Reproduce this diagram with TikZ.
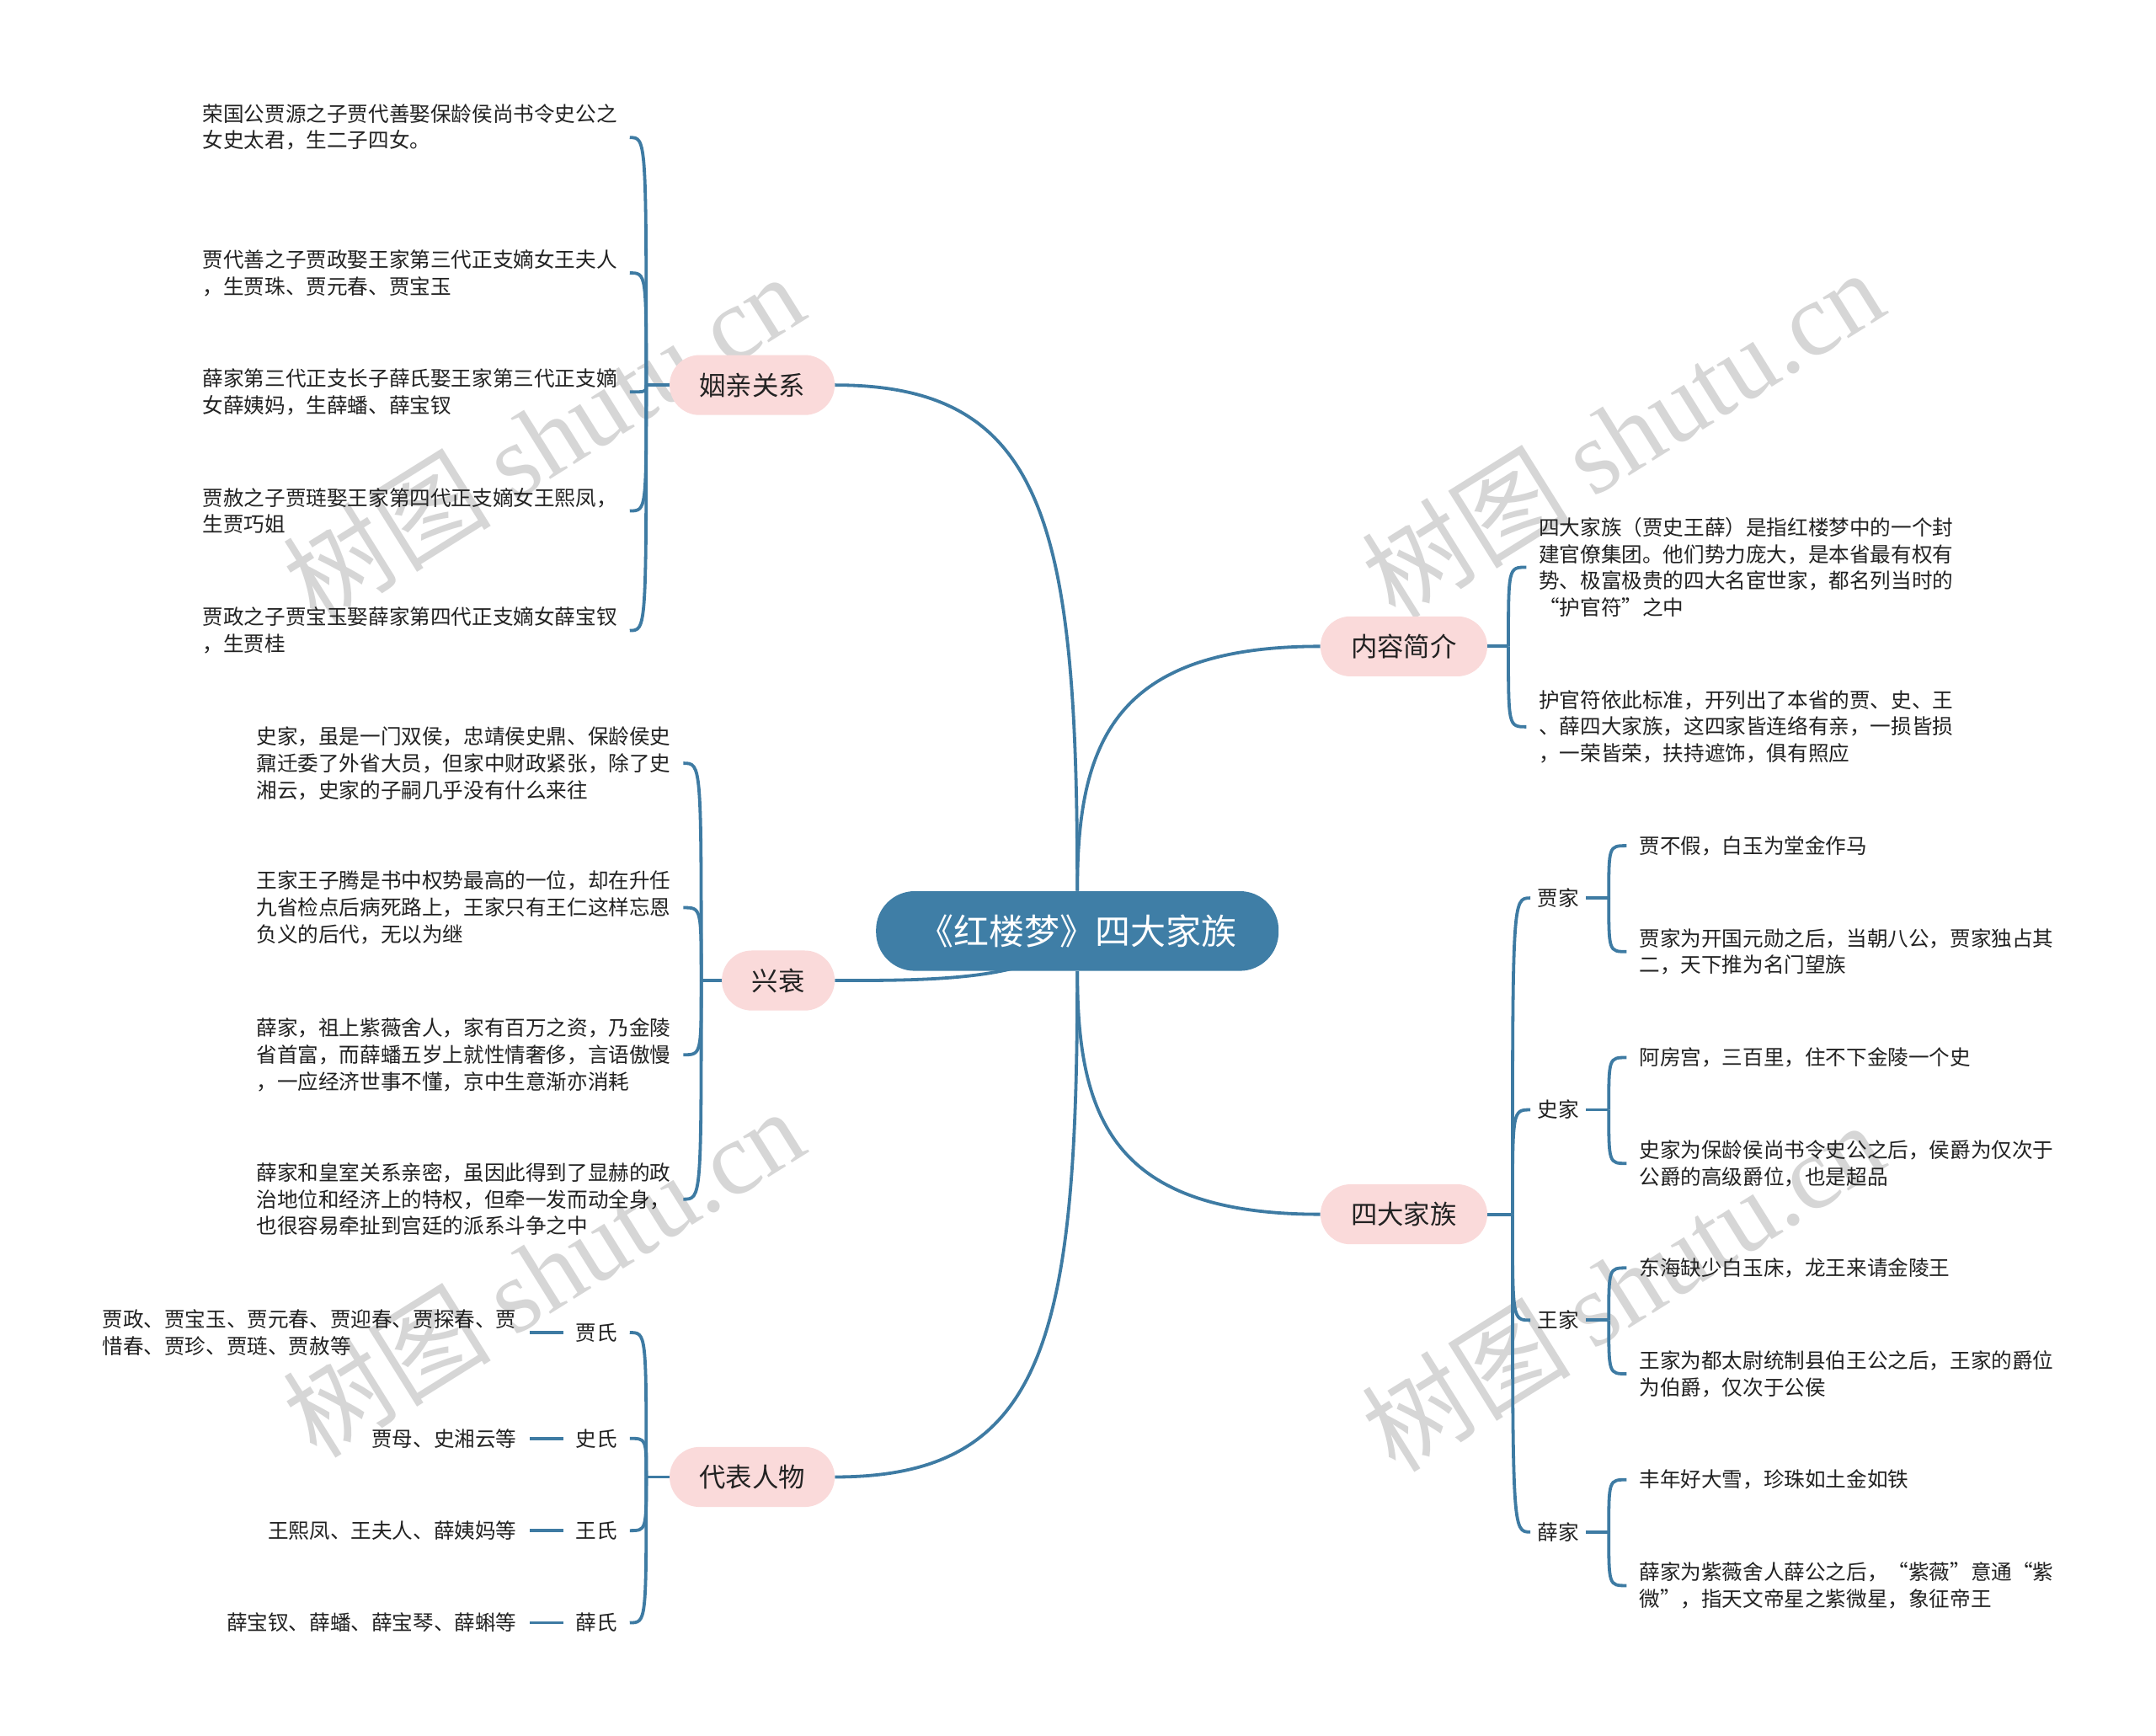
\documentclass[tikz,border=0pt]{standalone}
\usepackage{fontspec}
\setmainfont{Noto Sans CJK SC}
\newfontfamily\wmlatin{Liberation Serif}
\usetikzlibrary{calc}
\definecolor{lineblue}{HTML}{3E7BA3}
\definecolor{rootblue}{HTML}{3F7EA6}
\definecolor{pinkfill}{HTML}{FADADA}
\definecolor{txt}{HTML}{222222}
\definecolor{wmgray}{HTML}{D6D6D6}
\pgfdeclarelayer{wm}
\pgfdeclarelayer{bg}
\pgfsetlayers{wm,bg,main}
\begin{document}
\begin{tikzpicture}[x=0.8163pt,y=-0.8163pt,
  conn/.style={draw=lineblue,line width=1.9pt},
  rootnode/.style={fill=rootblue,text=white,rounded corners=23pt,minimum width=239pt,minimum height=47.3pt,inner sep=0pt,font=\fontsize{21}{25}\selectfont},
  topic/.style={fill=pinkfill,text=txt,rounded corners=17.8pt,minimum height=35.6pt,inner sep=0pt,font=\fontsize{15.7}{19}\selectfont},
  leaf/.style={text=txt,align=left,inner xsep=7.3pt,inner ysep=0pt,font=\fontsize{12.3}{15.9}\selectfont},
  lab/.style={text=txt,inner xsep=4pt,inner ysep=0pt,font=\fontsize{12.3}{15.9}\selectfont},
  wmark/.style={text=wmgray,rotate=32,inner sep=0pt,font=\fontsize{62}{70}\selectfont}]
\useasboundingbox (0,0) rectangle (1568,1262);
\begin{pgfonlayer}{wm}
\fill[white] (0,0) rectangle (1568,1262);
\node[wmark] (w1) at (395,318) {树图 {\wmlatin shutu.cn}};
\node[wmark] (w2) at (1180,315) {树图 {\wmlatin shutu.cn}};
\node[wmark] (w3) at (395,925) {树图 {\wmlatin shutu.cn}};
\node[wmark] (w4) at (1180,935) {树图 {\wmlatin shutu.cn}};
\end{pgfonlayer}

% root and topics
\node[rootnode] (root) at (783.5,677) {《红楼梦》四大家族};
\node[topic,minimum width=98pt] (yq) at (547,280) {姻亲关系};
\node[topic,minimum width=67pt] (xs) at (566,713) {兴衰};
\node[topic,minimum width=98pt] (db) at (547,1074) {代表人物};
\node[topic,minimum width=99pt] (nr) at (1021,470) {内容简介};
\node[topic,minimum width=99pt] (sd) at (1021,883) {四大家族};

% 姻亲关系 children
\node[leaf,anchor=east] (a1) at (458,92.5) {荣国公贾源之子贾代善娶保龄侯尚书令史公之\\女史太君，生二子四女。};
\node[leaf,anchor=east] (a2) at (458,198.5) {贾代善之子贾政娶王家第三代正支嫡女王夫人\\，生贾珠、贾元春、贾宝玉};
\node[leaf,anchor=east] (a3) at (458,285) {薛家第三代正支长子薛氏娶王家第三代正支嫡\\女薛姨妈，生薛蟠、薛宝钗};
\node[leaf,anchor=east] (a4) at (458,371.5) {贾赦之子贾琏娶王家第四代正支嫡女王熙凤，\\生贾巧姐};
\node[leaf,anchor=east] (a5) at (458,458.5) {贾政之子贾宝玉娶薛家第四代正支嫡女薛宝钗\\，生贾桂};

% 兴衰 children
\node[leaf,anchor=east] (b1) at (497,555) {史家，虽是一门双侯，忠靖侯史鼎、保龄侯史\\鼐迁委了外省大员，但家中财政紧张，除了史\\湘云，史家的子嗣几乎没有什么来往};
\node[leaf,anchor=east] (b2) at (497,660) {王家王子腾是书中权势最高的一位，却在升任\\九省检点后病死路上，王家只有王仁这样忘恩\\负义的后代，无以为继};
\node[leaf,anchor=east] (b3) at (497,767) {薛家，祖上紫薇舍人，家有百万之资，乃金陵\\省首富，而薛蟠五岁上就性情奢侈，言语傲慢\\，一应经济世事不懂，京中生意渐亦消耗};
\node[leaf,anchor=east] (b4) at (497,872) {薛家和皇室关系亲密，虽因此得到了显赫的政\\治地位和经济上的特权，但牵一发而动全身，\\也很容易牵扯到宫廷的派系斗争之中};

% 代表人物 children
\node[leaf,anchor=east] (c1) at (458,969) {贾氏};
\node[leaf,anchor=east] (c2) at (458,1046) {史氏};
\node[leaf,anchor=east] (c3) at (458,1113) {王氏};
\node[leaf,anchor=east] (c4) at (458,1180) {薛氏};
\node[leaf,anchor=east] (v1) at (385,969) {贾政、贾宝玉、贾元春、贾迎春、贾探春、贾\\惜春、贾珍、贾琏、贾赦等};
\node[leaf,anchor=east] (v2) at (385,1046) {贾母、史湘云等};
\node[leaf,anchor=east] (v3) at (385,1113) {王熙凤、王夫人、薛姨妈等};
\node[leaf,anchor=east] (v4) at (385,1180) {薛宝钗、薛蟠、薛宝琴、薛蝌等};

% 内容简介 children
\node[leaf,anchor=west] (d1) at (1110,412.5) {四大家族（贾史王薛）是指红楼梦中的一个封\\建官僚集团。他们势力庞大，是本省最有权有\\势、极富极贵的四大名宦世家，都名列当时的\\“护官符”之中};
\node[leaf,anchor=west] (d2) at (1110,528.5) {护官符依此标准，开列出了本省的贾、史、王\\、薛四大家族，这四家皆连络有亲，一损皆损\\，一荣皆荣，扶持遮饰，俱有照应};

% 四大家族 children
\node[lab,anchor=west] (g1) at (1113,653) {贾家};
\node[lab,anchor=west] (g2) at (1113,807) {史家};
\node[lab,anchor=west] (g3) at (1113,960) {王家};
\node[lab,anchor=west] (g4) at (1113,1114) {薛家};
\node[leaf,anchor=west] (e1) at (1183,615) {贾不假，白玉为堂金作马};
\node[leaf,anchor=west] (e2) at (1183,692) {贾家为开国元勋之后，当朝八公，贾家独占其\\二，天下推为名门望族};
\node[leaf,anchor=west] (e3) at (1183,769) {阿房宫，三百里，住不下金陵一个史};
\node[leaf,anchor=west] (e4) at (1183,846) {史家为保龄侯尚书令史公之后，侯爵为仅次于\\公爵的高级爵位，也是超品};
\node[leaf,anchor=west] (e5) at (1183,922) {东海缺少白玉床，龙王来请金陵王};
\node[leaf,anchor=west] (e6) at (1183,999) {王家为都太尉统制县伯王公之后，王家的爵位\\为伯爵，仅次于公侯};
\node[leaf,anchor=west] (e7) at (1183,1076) {丰年好大雪，珍珠如土金如铁};
\node[leaf,anchor=west] (e8) at (1183,1153) {薛家为紫薇舍人薛公之后，“紫薇”意通“紫\\微”，指天文帝星之紫微星，象征帝王};

\begin{pgfonlayer}{bg}
% root to topics
\draw[conn] (root.north) .. controls (783.5,380) and (760,280) .. (yq.east);
\draw[conn] (root.center) .. controls (760,713) and (680,713) .. (xs.east);
\draw[conn] (root.south) .. controls (783.5,974) and (760,1074) .. (db.east);
\draw[conn] (root.north) .. controls (783.5,540) and (810,470) .. (nr.west);
\draw[conn] (root.south) .. controls (783.5,814) and (810,883) .. (sd.west);

% 姻亲关系 bracket
\coordinate (j1) at (470,280);
\coordinate (h1) at ($(a1.east)+(0,7.5)$);
\draw[conn] (yq.west) -- (j1);
\draw[conn] (j1) .. controls (j1|-h1) .. (h1);
\foreach \c in {a2,a3,a4,a5}{\draw[conn] (j1) .. controls (j1|-\c.east) .. (\c.east);}

% 兴衰 bracket
\coordinate (j2) at (510,713);
\draw[conn] (xs.west) -- (j2);
\foreach \c in {b1,b2,b3,b4}{\draw[conn] (j2) .. controls (j2|-\c.east) .. (\c.east);}

% 代表人物 bracket
\coordinate (j3) at (470,1074);
\draw[conn] (db.west) -- (j3);
\foreach \c in {c1,c2,c3,c4}{\draw[conn] (j3) .. controls (j3|-\c.east) .. (\c.east);}
\draw[conn] (c1.west) -- (v1.east);
\draw[conn] (c2.west) -- (v2.east);
\draw[conn] (c3.west) -- (v3.east);
\draw[conn] (c4.west) -- (v4.east);

% 内容简介 bracket
\coordinate (j4) at (1097,470);
\draw[conn] (nr.east) -- (j4);
\foreach \c in {d1,d2}{\draw[conn] (j4) .. controls (j4|-\c.west) .. (\c.west);}

% 四大家族 bracket
\coordinate (j5) at (1100,883);
\draw[conn] (sd.east) -- (j5);
\foreach \c in {g1,g2,g3,g4}{\draw[conn] (j5) .. controls (j5|-\c.west) .. (\c.west);}

% family sub-brackets
\coordinate (k1) at (1170,653);
\coordinate (k2) at (1170,807);
\coordinate (k3) at (1170,960);
\coordinate (k4) at (1170,1114);
\draw[conn] (g1.east) -- (k1);
\draw[conn] (g2.east) -- (k2);
\draw[conn] (g3.east) -- (k3);
\draw[conn] (g4.east) -- (k4);
\draw[conn] (k1) .. controls (k1|-e1.west) .. (e1.west);
\draw[conn] (k1) .. controls (k1|-e2.west) .. (e2.west);
\draw[conn] (k2) .. controls (k2|-e3.west) .. (e3.west);
\draw[conn] (k2) .. controls (k2|-e4.west) .. (e4.west);
\draw[conn] (k3) .. controls (k3|-e5.west) .. (e5.west);
\draw[conn] (k3) .. controls (k3|-e6.west) .. (e6.west);
\draw[conn] (k4) .. controls (k4|-e7.west) .. (e7.west);
\draw[conn] (k4) .. controls (k4|-e8.west) .. (e8.west);
\end{pgfonlayer}
\end{tikzpicture}
\end{document}
